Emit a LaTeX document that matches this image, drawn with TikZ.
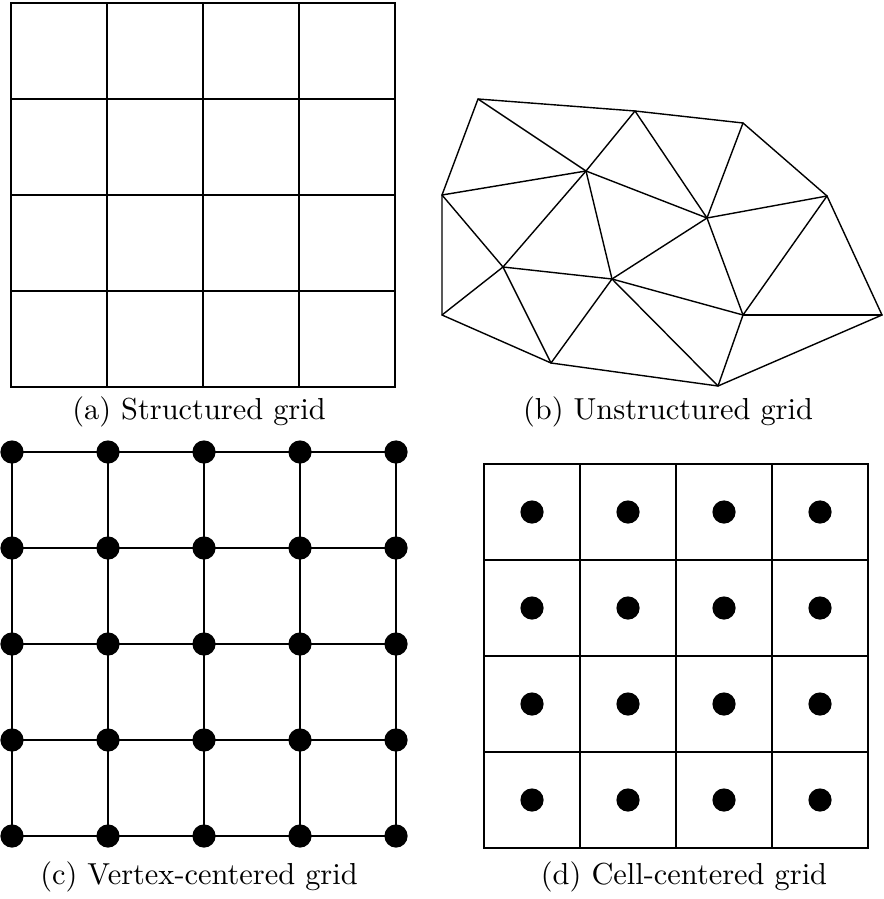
\documentclass[tikz,border=0pt]{standalone}
\usepackage{tikz}

\begin{document}
\begin{tikzpicture}[
    x=0.025cm, y=-0.025cm,
    gridline/.style={line width=0.055cm},
    meshline/.style={line width=0.035cm, line join=round, line cap=round},
    dot/.style={circle, fill=black, inner sep=0pt, minimum size=0.58cm},
    caption/.style={anchor=base, scale=2.16}
]
    \useasboundingbox (0,0) rectangle (883,899);

    % (a) structured
    \draw[gridline] (11,3) rectangle (395,387);
    \foreach \i in {1,2,3} {
        \draw[gridline] (11+96*\i,3) -- (11+96*\i,387);
        \draw[gridline] (11,3+96*\i) -- (395,3+96*\i);
    }
    \node[caption] (capa) at (199,419) {(a) Structured grid};

    % (b) unstructured
    \coordinate (vA) at (478,99);
    \coordinate (vB) at (635,111);
    \coordinate (vE) at (743,123);
    \coordinate (vF) at (827,196);
    \coordinate (vC) at (586,171);
    \coordinate (vG) at (707,218);
    \coordinate (vD) at (442,195);
    \coordinate (vH) at (442,315);
    \coordinate (vI) at (503,267);
    \coordinate (vJ) at (612,279);
    \coordinate (vL) at (743,315);
    \coordinate (vM) at (882,315);
    \coordinate (vK) at (551,363);
    \coordinate (vN) at (718,386);
    \draw[meshline] (vA) -- (vB) -- (vE) -- (vF) -- (vM) -- (vN) -- (vK) -- (vH) -- (vD) -- cycle;
    \foreach \a/\b in {A/C, B/C, B/G, E/G, F/G, C/G, D/C, D/I, H/I, C/I, C/J, I/J, I/K,
                       K/J, J/G, J/L, J/N, G/L, F/L, L/M, L/N}
        \draw[meshline] (v\a) -- (v\b);
    \node[caption] (capb) at (668,419) {(b) Unstructured grid};

    % (c) vertex-centered
    \foreach \i in {0,...,4}
        \foreach \j in {0,...,4}
            \node[dot] (c\i\j) at (12+96*\i,452+96*\j) {};
    \foreach \i in {0,...,4} {
        \draw[gridline] (c\i0.center) -- (c\i4.center);
        \draw[gridline] (c0\i.center) -- (c4\i.center);
    }
    \node[caption] (capc) at (199,884) {(c) Vertex-centered grid};

    % (d) cell-centered
    \draw[gridline] (484,464) rectangle (868,848);
    \foreach \i in {1,2,3} {
        \draw[gridline] (484+96*\i,464) -- (484+96*\i,848);
        \draw[gridline] (484,464+96*\i) -- (868,464+96*\i);
    }
    \foreach \i in {0,...,3}
        \foreach \j in {0,...,3}
            \node[dot] (d\i\j) at (532+96*\i,512+96*\j) {};
    \node[caption] (capd) at (684,884) {(d) Cell-centered grid};
\end{tikzpicture}
\end{document}
